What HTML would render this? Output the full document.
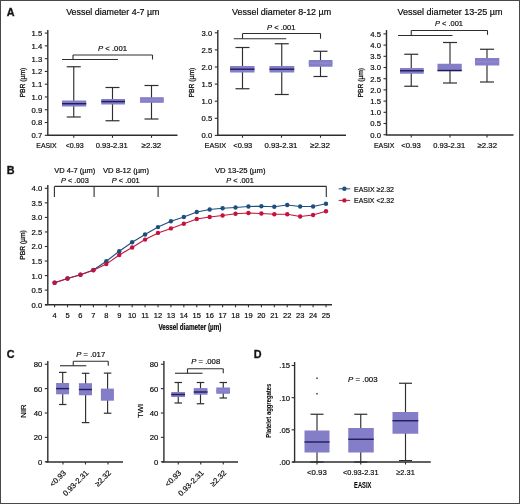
<!DOCTYPE html>
<html><head><meta charset="utf-8"><style>
html,body{margin:0;padding:0;background:#fff;}
body{width:520px;height:504px;overflow:hidden;}
svg{display:block;font-family:"Liberation Sans", sans-serif;will-change:transform;}
text{stroke:#1e1e1e;stroke-width:0.2px;}
</style></head><body>
<svg width="520" height="504" viewBox="0 0 520 504">
<rect x="0" y="0" width="520" height="504" fill="#fff"/>
<rect x="0.5" y="0.5" width="519" height="503" fill="none" stroke="#484848" stroke-width="1"/>
<text x="6.7" y="15.7" font-size="10.8" style="stroke-width:0.35px" font-weight="bold" fill="#111">A</text>
<text x="66.2" y="14.6" font-size="8.6" textLength="93.3" lengthAdjust="spacingAndGlyphs">Vessel diameter 4-7 µm</text>
<line x1="47.8" y1="30" x2="47.8" y2="135.2" stroke="#2e2e2e" stroke-width="1.4"/>
<line x1="44.8" y1="33.1" x2="47.8" y2="33.1" stroke="#2e2e2e" stroke-width="1.1"/>
<text x="42.2" y="36.0" font-size="7.7" text-anchor="end">1.5</text>
<line x1="44.8" y1="45.875" x2="47.8" y2="45.875" stroke="#2e2e2e" stroke-width="1.1"/>
<text x="42.2" y="48.775" font-size="7.7" text-anchor="end">1.4</text>
<line x1="44.8" y1="58.650000000000006" x2="47.8" y2="58.650000000000006" stroke="#2e2e2e" stroke-width="1.1"/>
<text x="42.2" y="61.550000000000004" font-size="7.7" text-anchor="end">1.3</text>
<line x1="44.8" y1="71.42500000000001" x2="47.8" y2="71.42500000000001" stroke="#2e2e2e" stroke-width="1.1"/>
<text x="42.2" y="74.32500000000002" font-size="7.7" text-anchor="end">1.2</text>
<line x1="44.8" y1="84.2" x2="47.8" y2="84.2" stroke="#2e2e2e" stroke-width="1.1"/>
<text x="42.2" y="87.10000000000001" font-size="7.7" text-anchor="end">1.1</text>
<line x1="44.8" y1="96.975" x2="47.8" y2="96.975" stroke="#2e2e2e" stroke-width="1.1"/>
<text x="42.2" y="99.875" font-size="7.7" text-anchor="end">1.0</text>
<line x1="44.8" y1="109.75" x2="47.8" y2="109.75" stroke="#2e2e2e" stroke-width="1.1"/>
<text x="42.2" y="112.65" font-size="7.7" text-anchor="end">0.9</text>
<line x1="44.8" y1="122.525" x2="47.8" y2="122.525" stroke="#2e2e2e" stroke-width="1.1"/>
<text x="42.2" y="125.42500000000001" font-size="7.7" text-anchor="end">0.8</text>
<line x1="44.8" y1="135.3" x2="47.8" y2="135.3" stroke="#2e2e2e" stroke-width="1.1"/>
<text x="42.2" y="138.20000000000002" font-size="7.7" text-anchor="end">0.7</text>
<line x1="47.1" y1="135.3" x2="177.5" y2="135.3" stroke="#2e2e2e" stroke-width="1.4"/>
<line x1="73.75" y1="135.3" x2="73.75" y2="137.8" stroke="#2e2e2e" stroke-width="1.1"/>
<line x1="112.5" y1="135.3" x2="112.5" y2="137.8" stroke="#2e2e2e" stroke-width="1.1"/>
<line x1="151.5" y1="135.3" x2="151.5" y2="137.8" stroke="#2e2e2e" stroke-width="1.1"/>
<text x="24.6" y="82.6" font-size="7.4" style="stroke-width:0.3px" text-anchor="middle" textLength="30" lengthAdjust="spacingAndGlyphs" transform="rotate(-90 24.6 82.6)">PBR (µm)</text>
<line x1="62" y1="59.5" x2="118" y2="59.5" stroke="#2e2e2e" stroke-width="1.1"/>
<line x1="73" y1="55" x2="73" y2="59.5" stroke="#2e2e2e" stroke-width="1.1"/>
<line x1="73" y1="55" x2="152.5" y2="55" stroke="#2e2e2e" stroke-width="1.1"/>
<line x1="152.5" y1="55" x2="152.5" y2="59.5" stroke="#2e2e2e" stroke-width="1.1"/>
<text x="98" y="50.6" font-size="7.7" textLength="29" lengthAdjust="spacingAndGlyphs"><tspan font-style="italic">P</tspan> &lt; .001</text>
<line x1="73.75" y1="66.75" x2="73.75" y2="117" stroke="#2e2e2e" stroke-width="1.15"/>
<line x1="66.75" y1="66.75" x2="80.75" y2="66.75" stroke="#2e2e2e" stroke-width="1.2"/>
<line x1="66.75" y1="117" x2="80.75" y2="117" stroke="#2e2e2e" stroke-width="1.2"/>
<rect x="62" y="100.5" width="24.25" height="6.0" fill="#837ec7"/>
<line x1="62" y1="103.7" x2="86.25" y2="103.7" stroke="#1f1d5a" stroke-width="1.4"/>
<line x1="112.5" y1="87.5" x2="112.5" y2="120.75" stroke="#2e2e2e" stroke-width="1.15"/>
<line x1="105.5" y1="87.5" x2="119.5" y2="87.5" stroke="#2e2e2e" stroke-width="1.2"/>
<line x1="105.5" y1="120.75" x2="119.5" y2="120.75" stroke="#2e2e2e" stroke-width="1.2"/>
<rect x="101.25" y="99" width="23.75" height="5.5" fill="#837ec7"/>
<line x1="101.25" y1="101.6" x2="125" y2="101.6" stroke="#1f1d5a" stroke-width="1.4"/>
<line x1="151.5" y1="85.5" x2="151.5" y2="119" stroke="#2e2e2e" stroke-width="1.15"/>
<line x1="144.5" y1="85.5" x2="158.5" y2="85.5" stroke="#2e2e2e" stroke-width="1.2"/>
<line x1="144.5" y1="119" x2="158.5" y2="119" stroke="#2e2e2e" stroke-width="1.2"/>
<rect x="140" y="97.2" width="23.75" height="5.599999999999994" fill="#837ec7"/>
<line x1="140" y1="100" x2="163.75" y2="100" stroke="#8e8ad0" stroke-width="1.4"/>
<text x="36.3" y="147.7" font-size="7.7" textLength="20.3" lengthAdjust="spacingAndGlyphs">EASIX</text>
<text x="65.7" y="147.7" font-size="7.7" textLength="18" lengthAdjust="spacingAndGlyphs">&lt;0.93</text>
<text x="95.8" y="147.7" font-size="7.7" textLength="32" lengthAdjust="spacingAndGlyphs">0.93-2.31</text>
<text x="141.6" y="147.7" font-size="7.7" textLength="19.6" lengthAdjust="spacingAndGlyphs">≥2.32</text>
<text x="232" y="14.6" font-size="8.6" textLength="99.2" lengthAdjust="spacingAndGlyphs">Vessel diameter 8-12 µm</text>
<line x1="217.8" y1="30" x2="217.8" y2="135.2" stroke="#2e2e2e" stroke-width="1.4"/>
<line x1="214.8" y1="32.8" x2="217.8" y2="32.8" stroke="#2e2e2e" stroke-width="1.1"/>
<text x="212.2" y="35.699999999999996" font-size="7.7" text-anchor="end">3.0</text>
<line x1="214.8" y1="49.9" x2="217.8" y2="49.9" stroke="#2e2e2e" stroke-width="1.1"/>
<text x="212.2" y="52.8" font-size="7.7" text-anchor="end">2.5</text>
<line x1="214.8" y1="67.0" x2="217.8" y2="67.0" stroke="#2e2e2e" stroke-width="1.1"/>
<text x="212.2" y="69.9" font-size="7.7" text-anchor="end">2.0</text>
<line x1="214.8" y1="84.1" x2="217.8" y2="84.1" stroke="#2e2e2e" stroke-width="1.1"/>
<text x="212.2" y="87.0" font-size="7.7" text-anchor="end">1.5</text>
<line x1="214.8" y1="101.2" x2="217.8" y2="101.2" stroke="#2e2e2e" stroke-width="1.1"/>
<text x="212.2" y="104.10000000000001" font-size="7.7" text-anchor="end">1.0</text>
<line x1="214.8" y1="118.3" x2="217.8" y2="118.3" stroke="#2e2e2e" stroke-width="1.1"/>
<text x="212.2" y="121.2" font-size="7.7" text-anchor="end">0.5</text>
<line x1="214.8" y1="135.4" x2="217.8" y2="135.4" stroke="#2e2e2e" stroke-width="1.1"/>
<text x="212.2" y="138.3" font-size="7.7" text-anchor="end">0.0</text>
<line x1="217.1" y1="135.2" x2="346" y2="135.2" stroke="#2e2e2e" stroke-width="1.4"/>
<line x1="242.5" y1="135.2" x2="242.5" y2="137.7" stroke="#2e2e2e" stroke-width="1.1"/>
<line x1="281.5" y1="135.2" x2="281.5" y2="137.7" stroke="#2e2e2e" stroke-width="1.1"/>
<line x1="320.5" y1="135.2" x2="320.5" y2="137.7" stroke="#2e2e2e" stroke-width="1.1"/>
<text x="194.2" y="82.6" font-size="7.4" style="stroke-width:0.3px" text-anchor="middle" textLength="30" lengthAdjust="spacingAndGlyphs" transform="rotate(-90 194.2 82.6)">PBR (µm)</text>
<line x1="233.75" y1="38.75" x2="286.25" y2="38.75" stroke="#2e2e2e" stroke-width="1.1"/>
<line x1="242.5" y1="33.5" x2="242.5" y2="38.75" stroke="#2e2e2e" stroke-width="1.1"/>
<line x1="242.5" y1="33.5" x2="320.5" y2="33.5" stroke="#2e2e2e" stroke-width="1.1"/>
<line x1="320.5" y1="33.5" x2="320.5" y2="38.75" stroke="#2e2e2e" stroke-width="1.1"/>
<text x="267" y="29.8" font-size="7.7" textLength="28.5" lengthAdjust="spacingAndGlyphs"><tspan font-style="italic">P</tspan> &lt; .001</text>
<line x1="242.5" y1="47.5" x2="242.5" y2="88.75" stroke="#2e2e2e" stroke-width="1.15"/>
<line x1="235.5" y1="47.5" x2="249.5" y2="47.5" stroke="#2e2e2e" stroke-width="1.2"/>
<line x1="235.5" y1="88.75" x2="249.5" y2="88.75" stroke="#2e2e2e" stroke-width="1.2"/>
<rect x="230" y="66.0" width="24.5" height="6.5" fill="#837ec7"/>
<line x1="230" y1="69.2" x2="254.5" y2="69.2" stroke="#1f1d5a" stroke-width="1.4"/>
<line x1="281.75" y1="43.75" x2="281.75" y2="94.5" stroke="#2e2e2e" stroke-width="1.15"/>
<line x1="274.75" y1="43.75" x2="288.75" y2="43.75" stroke="#2e2e2e" stroke-width="1.2"/>
<line x1="274.75" y1="94.5" x2="288.75" y2="94.5" stroke="#2e2e2e" stroke-width="1.2"/>
<rect x="269.5" y="66.0" width="24.75" height="6.5" fill="#837ec7"/>
<line x1="269.5" y1="69.2" x2="294.25" y2="69.2" stroke="#1f1d5a" stroke-width="1.4"/>
<line x1="320.5" y1="51.25" x2="320.5" y2="76.5" stroke="#2e2e2e" stroke-width="1.15"/>
<line x1="313.5" y1="51.25" x2="327.5" y2="51.25" stroke="#2e2e2e" stroke-width="1.2"/>
<line x1="313.5" y1="76.5" x2="327.5" y2="76.5" stroke="#2e2e2e" stroke-width="1.2"/>
<rect x="308.75" y="60" width="23.75" height="6.75" fill="#837ec7"/>
<line x1="308.75" y1="63.2" x2="332.5" y2="63.2" stroke="#8e8ad0" stroke-width="1.4"/>
<text x="204.6" y="147.7" font-size="7.7" textLength="21.5" lengthAdjust="spacingAndGlyphs">EASIX</text>
<text x="233.3" y="147.7" font-size="7.7" textLength="19" lengthAdjust="spacingAndGlyphs">&lt;0.93</text>
<text x="264.5" y="147.7" font-size="7.7" textLength="32.8" lengthAdjust="spacingAndGlyphs">0.93-2.31</text>
<text x="310" y="147.7" font-size="7.7" textLength="20" lengthAdjust="spacingAndGlyphs">≥2.32</text>
<text x="397.5" y="14.6" font-size="8.6" textLength="105" lengthAdjust="spacingAndGlyphs">Vessel diameter 13-25 µm</text>
<line x1="386.5" y1="30" x2="386.5" y2="135" stroke="#2e2e2e" stroke-width="1.4"/>
<line x1="383.5" y1="33.9" x2="386.5" y2="33.9" stroke="#2e2e2e" stroke-width="1.1"/>
<text x="381" y="36.8" font-size="7.7" text-anchor="end">4.5</text>
<line x1="383.5" y1="45.099999999999994" x2="386.5" y2="45.099999999999994" stroke="#2e2e2e" stroke-width="1.1"/>
<text x="381" y="47.99999999999999" font-size="7.7" text-anchor="end">4.0</text>
<line x1="383.5" y1="56.3" x2="386.5" y2="56.3" stroke="#2e2e2e" stroke-width="1.1"/>
<text x="381" y="59.199999999999996" font-size="7.7" text-anchor="end">3.5</text>
<line x1="383.5" y1="67.5" x2="386.5" y2="67.5" stroke="#2e2e2e" stroke-width="1.1"/>
<text x="381" y="70.4" font-size="7.7" text-anchor="end">3.0</text>
<line x1="383.5" y1="78.69999999999999" x2="386.5" y2="78.69999999999999" stroke="#2e2e2e" stroke-width="1.1"/>
<text x="381" y="81.6" font-size="7.7" text-anchor="end">2.5</text>
<line x1="383.5" y1="89.9" x2="386.5" y2="89.9" stroke="#2e2e2e" stroke-width="1.1"/>
<text x="381" y="92.80000000000001" font-size="7.7" text-anchor="end">2.0</text>
<line x1="383.5" y1="101.1" x2="386.5" y2="101.1" stroke="#2e2e2e" stroke-width="1.1"/>
<text x="381" y="104.0" font-size="7.7" text-anchor="end">1.5</text>
<line x1="383.5" y1="112.29999999999998" x2="386.5" y2="112.29999999999998" stroke="#2e2e2e" stroke-width="1.1"/>
<text x="381" y="115.19999999999999" font-size="7.7" text-anchor="end">1.0</text>
<line x1="383.5" y1="123.5" x2="386.5" y2="123.5" stroke="#2e2e2e" stroke-width="1.1"/>
<text x="381" y="126.4" font-size="7.7" text-anchor="end">0.5</text>
<line x1="383.5" y1="134.7" x2="386.5" y2="134.7" stroke="#2e2e2e" stroke-width="1.1"/>
<text x="381" y="137.6" font-size="7.7" text-anchor="end">0.0</text>
<line x1="385.8" y1="135" x2="513.5" y2="135" stroke="#2e2e2e" stroke-width="1.4"/>
<line x1="411.25" y1="135" x2="411.25" y2="137.5" stroke="#2e2e2e" stroke-width="1.1"/>
<line x1="450" y1="135" x2="450" y2="137.5" stroke="#2e2e2e" stroke-width="1.1"/>
<line x1="487" y1="135" x2="487" y2="137.5" stroke="#2e2e2e" stroke-width="1.1"/>
<text x="363.4" y="82.7" font-size="7.4" style="stroke-width:0.3px" text-anchor="middle" textLength="29.6" lengthAdjust="spacingAndGlyphs" transform="rotate(-90 363.4 82.7)">PBR (µm)</text>
<line x1="398" y1="35.5" x2="452.5" y2="35.5" stroke="#2e2e2e" stroke-width="1.1"/>
<line x1="411.25" y1="30.5" x2="411.25" y2="35.5" stroke="#2e2e2e" stroke-width="1.1"/>
<line x1="411.25" y1="30.5" x2="487.5" y2="30.5" stroke="#2e2e2e" stroke-width="1.1"/>
<line x1="487.5" y1="30.5" x2="487.5" y2="34.8" stroke="#2e2e2e" stroke-width="1.1"/>
<text x="435" y="26.4" font-size="7.7" textLength="28" lengthAdjust="spacingAndGlyphs"><tspan font-style="italic">P</tspan> &lt; .001</text>
<line x1="411.25" y1="54.25" x2="411.25" y2="86.25" stroke="#2e2e2e" stroke-width="1.15"/>
<line x1="404.25" y1="54.25" x2="418.25" y2="54.25" stroke="#2e2e2e" stroke-width="1.2"/>
<line x1="404.25" y1="86.25" x2="418.25" y2="86.25" stroke="#2e2e2e" stroke-width="1.2"/>
<rect x="400" y="68" width="23.75" height="5.75" fill="#837ec7"/>
<line x1="400" y1="70.75" x2="423.75" y2="70.75" stroke="#1f1d5a" stroke-width="1.4"/>
<line x1="450" y1="42.5" x2="450" y2="83" stroke="#2e2e2e" stroke-width="1.15"/>
<line x1="443.0" y1="42.5" x2="457.0" y2="42.5" stroke="#2e2e2e" stroke-width="1.2"/>
<line x1="443.0" y1="83" x2="457.0" y2="83" stroke="#2e2e2e" stroke-width="1.2"/>
<rect x="437.5" y="63.75" width="24.25" height="7.5" fill="#837ec7"/>
<line x1="437.5" y1="70.5" x2="461.75" y2="70.5" stroke="#1f1d5a" stroke-width="1.4"/>
<line x1="487" y1="49.25" x2="487" y2="82" stroke="#2e2e2e" stroke-width="1.15"/>
<line x1="480.0" y1="49.25" x2="494.0" y2="49.25" stroke="#2e2e2e" stroke-width="1.2"/>
<line x1="480.0" y1="82" x2="494.0" y2="82" stroke="#2e2e2e" stroke-width="1.2"/>
<rect x="475" y="58" width="24.25" height="7.5" fill="#837ec7"/>
<line x1="475" y1="61.75" x2="499.25" y2="61.75" stroke="#8e8ad0" stroke-width="1.4"/>
<text x="373.9" y="147.7" font-size="7.7" textLength="20.5" lengthAdjust="spacingAndGlyphs">EASIX</text>
<text x="401.3" y="147.7" font-size="7.7" textLength="19.5" lengthAdjust="spacingAndGlyphs">&lt;0.93</text>
<text x="433.3" y="147.7" font-size="7.7" textLength="31.8" lengthAdjust="spacingAndGlyphs">0.93-2.31</text>
<text x="477.5" y="147.7" font-size="7.7" textLength="19.5" lengthAdjust="spacingAndGlyphs">≥2.32</text>
<text x="6.7" y="173.9" font-size="10.8" style="stroke-width:0.35px" font-weight="bold" fill="#111">B</text>
<line x1="47.8" y1="185" x2="47.8" y2="305" stroke="#2e2e2e" stroke-width="1.4"/>
<line x1="44.8" y1="188.3" x2="47.8" y2="188.3" stroke="#2e2e2e" stroke-width="1.1"/>
<text x="42.2" y="191.20000000000002" font-size="7.7" text-anchor="end">4.0</text>
<line x1="44.8" y1="202.85000000000002" x2="47.8" y2="202.85000000000002" stroke="#2e2e2e" stroke-width="1.1"/>
<text x="42.2" y="205.75000000000003" font-size="7.7" text-anchor="end">3.5</text>
<line x1="44.8" y1="217.4" x2="47.8" y2="217.4" stroke="#2e2e2e" stroke-width="1.1"/>
<text x="42.2" y="220.3" font-size="7.7" text-anchor="end">3.0</text>
<line x1="44.8" y1="231.95000000000002" x2="47.8" y2="231.95000000000002" stroke="#2e2e2e" stroke-width="1.1"/>
<text x="42.2" y="234.85000000000002" font-size="7.7" text-anchor="end">2.5</text>
<line x1="44.8" y1="246.5" x2="47.8" y2="246.5" stroke="#2e2e2e" stroke-width="1.1"/>
<text x="42.2" y="249.4" font-size="7.7" text-anchor="end">2.0</text>
<line x1="44.8" y1="261.05" x2="47.8" y2="261.05" stroke="#2e2e2e" stroke-width="1.1"/>
<text x="42.2" y="263.95" font-size="7.7" text-anchor="end">1.5</text>
<line x1="44.8" y1="275.6" x2="47.8" y2="275.6" stroke="#2e2e2e" stroke-width="1.1"/>
<text x="42.2" y="278.5" font-size="7.7" text-anchor="end">1.0</text>
<line x1="44.8" y1="290.15000000000003" x2="47.8" y2="290.15000000000003" stroke="#2e2e2e" stroke-width="1.1"/>
<text x="42.2" y="293.05" font-size="7.7" text-anchor="end">0.5</text>
<line x1="44.8" y1="304.70000000000005" x2="47.8" y2="304.70000000000005" stroke="#2e2e2e" stroke-width="1.1"/>
<text x="42.2" y="307.6" font-size="7.7" text-anchor="end">0.0</text>
<line x1="45" y1="304.8" x2="332" y2="304.8" stroke="#2e2e2e" stroke-width="1.4"/>
<line x1="54.6" y1="304.8" x2="54.6" y2="307.3" stroke="#2e2e2e" stroke-width="1.1"/>
<line x1="67.524" y1="304.8" x2="67.524" y2="307.3" stroke="#2e2e2e" stroke-width="1.1"/>
<line x1="80.44800000000001" y1="304.8" x2="80.44800000000001" y2="307.3" stroke="#2e2e2e" stroke-width="1.1"/>
<line x1="93.372" y1="304.8" x2="93.372" y2="307.3" stroke="#2e2e2e" stroke-width="1.1"/>
<line x1="106.29599999999999" y1="304.8" x2="106.29599999999999" y2="307.3" stroke="#2e2e2e" stroke-width="1.1"/>
<line x1="119.22" y1="304.8" x2="119.22" y2="307.3" stroke="#2e2e2e" stroke-width="1.1"/>
<line x1="132.144" y1="304.8" x2="132.144" y2="307.3" stroke="#2e2e2e" stroke-width="1.1"/>
<line x1="145.06799999999998" y1="304.8" x2="145.06799999999998" y2="307.3" stroke="#2e2e2e" stroke-width="1.1"/>
<line x1="157.992" y1="304.8" x2="157.992" y2="307.3" stroke="#2e2e2e" stroke-width="1.1"/>
<line x1="170.916" y1="304.8" x2="170.916" y2="307.3" stroke="#2e2e2e" stroke-width="1.1"/>
<line x1="183.84" y1="304.8" x2="183.84" y2="307.3" stroke="#2e2e2e" stroke-width="1.1"/>
<line x1="196.76399999999998" y1="304.8" x2="196.76399999999998" y2="307.3" stroke="#2e2e2e" stroke-width="1.1"/>
<line x1="209.688" y1="304.8" x2="209.688" y2="307.3" stroke="#2e2e2e" stroke-width="1.1"/>
<line x1="222.612" y1="304.8" x2="222.612" y2="307.3" stroke="#2e2e2e" stroke-width="1.1"/>
<line x1="235.53599999999997" y1="304.8" x2="235.53599999999997" y2="307.3" stroke="#2e2e2e" stroke-width="1.1"/>
<line x1="248.45999999999998" y1="304.8" x2="248.45999999999998" y2="307.3" stroke="#2e2e2e" stroke-width="1.1"/>
<line x1="261.384" y1="304.8" x2="261.384" y2="307.3" stroke="#2e2e2e" stroke-width="1.1"/>
<line x1="274.308" y1="304.8" x2="274.308" y2="307.3" stroke="#2e2e2e" stroke-width="1.1"/>
<line x1="287.232" y1="304.8" x2="287.232" y2="307.3" stroke="#2e2e2e" stroke-width="1.1"/>
<line x1="300.156" y1="304.8" x2="300.156" y2="307.3" stroke="#2e2e2e" stroke-width="1.1"/>
<line x1="313.08000000000004" y1="304.8" x2="313.08000000000004" y2="307.3" stroke="#2e2e2e" stroke-width="1.1"/>
<line x1="326.004" y1="304.8" x2="326.004" y2="307.3" stroke="#2e2e2e" stroke-width="1.1"/>
<text x="54.6" y="317.7" font-size="7.5" text-anchor="middle">4</text>
<text x="67.52" y="317.7" font-size="7.5" text-anchor="middle">5</text>
<text x="80.45" y="317.7" font-size="7.5" text-anchor="middle">6</text>
<text x="93.37" y="317.7" font-size="7.5" text-anchor="middle">7</text>
<text x="106.3" y="317.7" font-size="7.5" text-anchor="middle">8</text>
<text x="119.22" y="317.7" font-size="7.5" text-anchor="middle">9</text>
<text x="132.14" y="317.7" font-size="7.5" text-anchor="middle">10</text>
<text x="145.07" y="317.7" font-size="7.5" text-anchor="middle">11</text>
<text x="157.99" y="317.7" font-size="7.5" text-anchor="middle">12</text>
<text x="170.92" y="317.7" font-size="7.5" text-anchor="middle">13</text>
<text x="183.84" y="317.7" font-size="7.5" text-anchor="middle">14</text>
<text x="196.76" y="317.7" font-size="7.5" text-anchor="middle">15</text>
<text x="209.69" y="317.7" font-size="7.5" text-anchor="middle">16</text>
<text x="222.61" y="317.7" font-size="7.5" text-anchor="middle">17</text>
<text x="235.54" y="317.7" font-size="7.5" text-anchor="middle">18</text>
<text x="248.46" y="317.7" font-size="7.5" text-anchor="middle">19</text>
<text x="261.38" y="317.7" font-size="7.5" text-anchor="middle">20</text>
<text x="274.31" y="317.7" font-size="7.5" text-anchor="middle">21</text>
<text x="287.23" y="317.7" font-size="7.5" text-anchor="middle">22</text>
<text x="300.16" y="317.7" font-size="7.5" text-anchor="middle">23</text>
<text x="313.08" y="317.7" font-size="7.5" text-anchor="middle">24</text>
<text x="326.0" y="317.7" font-size="7.5" text-anchor="middle">25</text>
<text x="158.4" y="329.7" font-size="8.6" textLength="63" lengthAdjust="spacingAndGlyphs" font-weight="bold">Vessel diameter (µm)</text>
<text x="25.2" y="245" font-size="7.4" style="stroke-width:0.3px" text-anchor="middle" textLength="29.7" lengthAdjust="spacingAndGlyphs" transform="rotate(-90 25.2 245)">PBR (µm)</text>
<line x1="54.5" y1="186.4" x2="326.5" y2="186.4" stroke="#2e2e2e" stroke-width="1.1"/>
<line x1="54.4" y1="186.4" x2="54.4" y2="196.9" stroke="#2e2e2e" stroke-width="1.1"/>
<line x1="94.1" y1="186.4" x2="94.1" y2="196.9" stroke="#2e2e2e" stroke-width="1.1"/>
<line x1="158.1" y1="186.4" x2="158.1" y2="196.9" stroke="#2e2e2e" stroke-width="1.1"/>
<line x1="326.3" y1="186.4" x2="326.3" y2="196.9" stroke="#2e2e2e" stroke-width="1.1"/>
<text x="54.3" y="173.4" font-size="7.7" textLength="41" lengthAdjust="spacingAndGlyphs">VD 4-7 (µm)</text>
<text x="60.9" y="182.6" font-size="7.7" textLength="27.9" lengthAdjust="spacingAndGlyphs"><tspan font-style="italic">P</tspan> &lt; .003</text>
<text x="103" y="173.4" font-size="7.7" textLength="46" lengthAdjust="spacingAndGlyphs">VD 8-12 (µm)</text>
<text x="111.8" y="182.6" font-size="7.7" textLength="27.9" lengthAdjust="spacingAndGlyphs"><tspan font-style="italic">P</tspan> &lt; .001</text>
<text x="215" y="173.4" font-size="7.7" textLength="50.5" lengthAdjust="spacingAndGlyphs">VD 13-25 (µm)</text>
<text x="226.2" y="182.6" font-size="7.7" textLength="27.6" lengthAdjust="spacingAndGlyphs"><tspan font-style="italic">P</tspan> &lt; .001</text>
<polyline fill="none" stroke="#1d4f7e" stroke-width="1.1" points="54.60,282.7 67.52,278.5 80.45,274.8 93.37,270.0 106.30,261.25 119.22,251.25 132.14,242.3 145.07,234.5 157.99,227.1 170.92,221.25 183.84,217 196.76,212 209.69,209.5 222.61,208.25 235.54,207.5 248.46,206.5 261.38,206.25 274.31,206.75 287.23,205 300.16,206.5 313.08,206.5 326.00,203.75"/>
<polyline fill="none" stroke="#c3133d" stroke-width="1.1" points="54.60,282.7 67.52,278.5 80.45,274.8 93.37,270.3 106.30,264.1 119.22,255 132.14,247.5 145.07,239.6 157.99,232.9 170.92,228.4 183.84,223.75 196.76,219 209.69,217 222.61,215.5 235.54,213.75 248.46,213 261.38,213.5 274.31,214.25 287.23,214.25 300.16,216.5 313.08,215 326.00,211.25"/>
<circle cx="54.6" cy="282.7" r="2.2" fill="#1d4f7e"/>
<circle cx="67.52" cy="278.5" r="2.2" fill="#1d4f7e"/>
<circle cx="80.45" cy="274.8" r="2.2" fill="#1d4f7e"/>
<circle cx="93.37" cy="270.0" r="2.2" fill="#1d4f7e"/>
<circle cx="106.3" cy="261.25" r="2.2" fill="#1d4f7e"/>
<circle cx="119.22" cy="251.25" r="2.2" fill="#1d4f7e"/>
<circle cx="132.14" cy="242.3" r="2.2" fill="#1d4f7e"/>
<circle cx="145.07" cy="234.5" r="2.2" fill="#1d4f7e"/>
<circle cx="157.99" cy="227.1" r="2.2" fill="#1d4f7e"/>
<circle cx="170.92" cy="221.25" r="2.2" fill="#1d4f7e"/>
<circle cx="183.84" cy="217" r="2.2" fill="#1d4f7e"/>
<circle cx="196.76" cy="212" r="2.2" fill="#1d4f7e"/>
<circle cx="209.69" cy="209.5" r="2.2" fill="#1d4f7e"/>
<circle cx="222.61" cy="208.25" r="2.2" fill="#1d4f7e"/>
<circle cx="235.54" cy="207.5" r="2.2" fill="#1d4f7e"/>
<circle cx="248.46" cy="206.5" r="2.2" fill="#1d4f7e"/>
<circle cx="261.38" cy="206.25" r="2.2" fill="#1d4f7e"/>
<circle cx="274.31" cy="206.75" r="2.2" fill="#1d4f7e"/>
<circle cx="287.23" cy="205" r="2.2" fill="#1d4f7e"/>
<circle cx="300.16" cy="206.5" r="2.2" fill="#1d4f7e"/>
<circle cx="313.08" cy="206.5" r="2.2" fill="#1d4f7e"/>
<circle cx="326.0" cy="203.75" r="2.2" fill="#1d4f7e"/>
<circle cx="54.6" cy="282.7" r="2.2" fill="#c3133d"/>
<circle cx="67.52" cy="278.5" r="2.2" fill="#c3133d"/>
<circle cx="80.45" cy="274.8" r="2.2" fill="#c3133d"/>
<circle cx="93.37" cy="270.3" r="2.2" fill="#c3133d"/>
<circle cx="106.3" cy="264.1" r="2.2" fill="#c3133d"/>
<circle cx="119.22" cy="255" r="2.2" fill="#c3133d"/>
<circle cx="132.14" cy="247.5" r="2.2" fill="#c3133d"/>
<circle cx="145.07" cy="239.6" r="2.2" fill="#c3133d"/>
<circle cx="157.99" cy="232.9" r="2.2" fill="#c3133d"/>
<circle cx="170.92" cy="228.4" r="2.2" fill="#c3133d"/>
<circle cx="183.84" cy="223.75" r="2.2" fill="#c3133d"/>
<circle cx="196.76" cy="219" r="2.2" fill="#c3133d"/>
<circle cx="209.69" cy="217" r="2.2" fill="#c3133d"/>
<circle cx="222.61" cy="215.5" r="2.2" fill="#c3133d"/>
<circle cx="235.54" cy="213.75" r="2.2" fill="#c3133d"/>
<circle cx="248.46" cy="213" r="2.2" fill="#c3133d"/>
<circle cx="261.38" cy="213.5" r="2.2" fill="#c3133d"/>
<circle cx="274.31" cy="214.25" r="2.2" fill="#c3133d"/>
<circle cx="287.23" cy="214.25" r="2.2" fill="#c3133d"/>
<circle cx="300.16" cy="216.5" r="2.2" fill="#c3133d"/>
<circle cx="313.08" cy="215" r="2.2" fill="#c3133d"/>
<circle cx="326.0" cy="211.25" r="2.2" fill="#c3133d"/>
<line x1="338.7" y1="188.8" x2="350.2" y2="188.8" stroke="#1d4f7e" stroke-width="1.0"/>
<circle cx="344.4" cy="188.8" r="2.2" fill="#1d4f7e"/>
<text x="354" y="191.7" font-size="7.7" textLength="40" lengthAdjust="spacingAndGlyphs">EASIX ≥2.32</text>
<line x1="338.7" y1="200.4" x2="350.2" y2="200.4" stroke="#c3133d" stroke-width="1.0"/>
<circle cx="344.4" cy="200.4" r="2.2" fill="#c3133d"/>
<text x="354" y="203.1" font-size="7.7" textLength="40" lengthAdjust="spacingAndGlyphs">EASIX &lt;2.32</text>
<text x="6.7" y="357.6" font-size="10.8" style="stroke-width:0.35px" font-weight="bold" fill="#111">C</text>
<line x1="47.8" y1="361" x2="47.8" y2="462" stroke="#2e2e2e" stroke-width="1.4"/>
<line x1="44.8" y1="364.25" x2="47.8" y2="364.25" stroke="#2e2e2e" stroke-width="1.1"/>
<text x="42.2" y="367.15" font-size="7.7" text-anchor="end">80</text>
<line x1="44.8" y1="388.625" x2="47.8" y2="388.625" stroke="#2e2e2e" stroke-width="1.1"/>
<text x="42.2" y="391.525" font-size="7.7" text-anchor="end">60</text>
<line x1="44.8" y1="413.0" x2="47.8" y2="413.0" stroke="#2e2e2e" stroke-width="1.1"/>
<text x="42.2" y="415.9" font-size="7.7" text-anchor="end">40</text>
<line x1="44.8" y1="437.375" x2="47.8" y2="437.375" stroke="#2e2e2e" stroke-width="1.1"/>
<text x="42.2" y="440.275" font-size="7.7" text-anchor="end">20</text>
<line x1="44.8" y1="461.75" x2="47.8" y2="461.75" stroke="#2e2e2e" stroke-width="1.1"/>
<text x="42.2" y="464.65" font-size="7.7" text-anchor="end">0</text>
<line x1="45.8" y1="462" x2="123" y2="462" stroke="#2e2e2e" stroke-width="1.4"/>
<line x1="63" y1="462" x2="63" y2="464.5" stroke="#2e2e2e" stroke-width="1.1"/>
<line x1="85.5" y1="462" x2="85.5" y2="464.5" stroke="#2e2e2e" stroke-width="1.1"/>
<line x1="108" y1="462" x2="108" y2="464.5" stroke="#2e2e2e" stroke-width="1.1"/>
<text x="26.4" y="411" font-size="7.7" text-anchor="middle" transform="rotate(-90 26.4 411)">NIR</text>
<line x1="60" y1="365.75" x2="86.25" y2="365.75" stroke="#2e2e2e" stroke-width="1.1"/>
<line x1="73.25" y1="361.25" x2="73.25" y2="365.75" stroke="#2e2e2e" stroke-width="1.1"/>
<line x1="73.25" y1="361.25" x2="108.25" y2="361.25" stroke="#2e2e2e" stroke-width="1.1"/>
<line x1="108.25" y1="361.25" x2="108.25" y2="365.75" stroke="#2e2e2e" stroke-width="1.1"/>
<text x="76.2" y="357.0" font-size="7.7" textLength="29" lengthAdjust="spacingAndGlyphs"><tspan font-style="italic">P</tspan> = .017</text>
<line x1="62.7" y1="372.4" x2="62.7" y2="404.5" stroke="#2e2e2e" stroke-width="1.15"/>
<line x1="58.95" y1="372.4" x2="66.45" y2="372.4" stroke="#2e2e2e" stroke-width="1.2"/>
<line x1="58.95" y1="404.5" x2="66.45" y2="404.5" stroke="#2e2e2e" stroke-width="1.2"/>
<rect x="56.1" y="383.0" width="12.999999999999993" height="11.300000000000011" fill="#837ec7"/>
<line x1="56.1" y1="388.6" x2="69.1" y2="388.6" stroke="#1f1d5a" stroke-width="1.4"/>
<line x1="85.6" y1="373.3" x2="85.6" y2="422.6" stroke="#2e2e2e" stroke-width="1.15"/>
<line x1="81.85" y1="373.3" x2="89.35" y2="373.3" stroke="#2e2e2e" stroke-width="1.2"/>
<line x1="81.85" y1="422.6" x2="89.35" y2="422.6" stroke="#2e2e2e" stroke-width="1.2"/>
<rect x="78.9" y="383.2" width="13.099999999999994" height="12.100000000000023" fill="#837ec7"/>
<line x1="78.9" y1="389.5" x2="92" y2="389.5" stroke="#1f1d5a" stroke-width="1.4"/>
<line x1="107.6" y1="373.1" x2="107.6" y2="413.2" stroke="#2e2e2e" stroke-width="1.15"/>
<line x1="103.85" y1="373.1" x2="111.35" y2="373.1" stroke="#2e2e2e" stroke-width="1.2"/>
<line x1="103.85" y1="413.2" x2="111.35" y2="413.2" stroke="#2e2e2e" stroke-width="1.2"/>
<rect x="100.9" y="388.6" width="13.0" height="12.099999999999966" fill="#837ec7"/>
<line x1="100.9" y1="394" x2="113.9" y2="394" stroke="#837ec7" stroke-width="1.4"/>
<text x="66.5" y="473.5" font-size="7.7" text-anchor="end" transform="rotate(-45 66.5 473.5)">&lt;0.93</text>
<text x="89.0" y="473.5" font-size="7.7" text-anchor="end" transform="rotate(-45 89.0 473.5)">0.93-2.31</text>
<text x="111.5" y="473.5" font-size="7.7" text-anchor="end" transform="rotate(-45 111.5 473.5)">≥2.32</text>
<line x1="163.9" y1="361" x2="163.9" y2="462" stroke="#2e2e2e" stroke-width="1.4"/>
<line x1="160.9" y1="364.25" x2="163.9" y2="364.25" stroke="#2e2e2e" stroke-width="1.1"/>
<text x="158.3" y="367.15" font-size="7.7" text-anchor="end">80</text>
<line x1="160.9" y1="388.625" x2="163.9" y2="388.625" stroke="#2e2e2e" stroke-width="1.1"/>
<text x="158.3" y="391.525" font-size="7.7" text-anchor="end">60</text>
<line x1="160.9" y1="413.0" x2="163.9" y2="413.0" stroke="#2e2e2e" stroke-width="1.1"/>
<text x="158.3" y="415.9" font-size="7.7" text-anchor="end">40</text>
<line x1="160.9" y1="437.375" x2="163.9" y2="437.375" stroke="#2e2e2e" stroke-width="1.1"/>
<text x="158.3" y="440.275" font-size="7.7" text-anchor="end">20</text>
<line x1="160.9" y1="461.75" x2="163.9" y2="461.75" stroke="#2e2e2e" stroke-width="1.1"/>
<text x="158.3" y="464.65" font-size="7.7" text-anchor="end">0</text>
<line x1="161.9" y1="462" x2="238" y2="462" stroke="#2e2e2e" stroke-width="1.4"/>
<line x1="178.25" y1="462" x2="178.25" y2="464.5" stroke="#2e2e2e" stroke-width="1.1"/>
<line x1="200.75" y1="462" x2="200.75" y2="464.5" stroke="#2e2e2e" stroke-width="1.1"/>
<line x1="223.25" y1="462" x2="223.25" y2="464.5" stroke="#2e2e2e" stroke-width="1.1"/>
<text x="142.6" y="411" font-size="7.7" text-anchor="middle" transform="rotate(-90 142.6 411)">TWI</text>
<line x1="175" y1="373.25" x2="202.5" y2="373.25" stroke="#2e2e2e" stroke-width="1.1"/>
<line x1="187.5" y1="368.75" x2="187.5" y2="373.25" stroke="#2e2e2e" stroke-width="1.1"/>
<line x1="187.5" y1="368.75" x2="223.25" y2="368.75" stroke="#2e2e2e" stroke-width="1.1"/>
<line x1="223.25" y1="368.75" x2="223.25" y2="373.25" stroke="#2e2e2e" stroke-width="1.1"/>
<text x="191.2" y="364.3" font-size="7.7" textLength="29" lengthAdjust="spacingAndGlyphs"><tspan font-style="italic">P</tspan> = .008</text>
<line x1="178.25" y1="382.5" x2="178.25" y2="403" stroke="#2e2e2e" stroke-width="1.15"/>
<line x1="174.5" y1="382.5" x2="182.0" y2="382.5" stroke="#2e2e2e" stroke-width="1.2"/>
<line x1="174.5" y1="403" x2="182.0" y2="403" stroke="#2e2e2e" stroke-width="1.2"/>
<rect x="171.25" y="392" width="13.75" height="5" fill="#837ec7"/>
<line x1="171.25" y1="394.5" x2="185" y2="394.5" stroke="#1f1d5a" stroke-width="1.4"/>
<line x1="200.5" y1="382.5" x2="200.5" y2="403.75" stroke="#2e2e2e" stroke-width="1.15"/>
<line x1="196.75" y1="382.5" x2="204.25" y2="382.5" stroke="#2e2e2e" stroke-width="1.2"/>
<line x1="196.75" y1="403.75" x2="204.25" y2="403.75" stroke="#2e2e2e" stroke-width="1.2"/>
<rect x="193.75" y="388.1" width="13.75" height="6.599999999999966" fill="#837ec7"/>
<line x1="193.75" y1="392.0" x2="207.5" y2="392.0" stroke="#1f1d5a" stroke-width="1.4"/>
<line x1="223.25" y1="382.5" x2="223.25" y2="398" stroke="#2e2e2e" stroke-width="1.15"/>
<line x1="219.5" y1="382.5" x2="227.0" y2="382.5" stroke="#2e2e2e" stroke-width="1.2"/>
<line x1="219.5" y1="398" x2="227.0" y2="398" stroke="#2e2e2e" stroke-width="1.2"/>
<rect x="216.25" y="387.5" width="13.75" height="6.25" fill="#837ec7"/>
<line x1="216.25" y1="390.6" x2="230" y2="390.6" stroke="#8e8ad0" stroke-width="1.4"/>
<text x="181.75" y="473.5" font-size="7.7" text-anchor="end" transform="rotate(-45 181.75 473.5)">&lt;0.93</text>
<text x="204.25" y="473.5" font-size="7.7" text-anchor="end" transform="rotate(-45 204.25 473.5)">0.93-2.31</text>
<text x="226.75" y="473.5" font-size="7.7" text-anchor="end" transform="rotate(-45 226.75 473.5)">≥2.32</text>
<text x="253.8" y="357.6" font-size="10.8" style="stroke-width:0.35px" font-weight="bold" fill="#111">D</text>
<line x1="294.6" y1="362" x2="294.6" y2="462" stroke="#2e2e2e" stroke-width="1.4"/>
<line x1="291.6" y1="365.5" x2="294.6" y2="365.5" stroke="#2e2e2e" stroke-width="1.1"/>
<text x="290" y="368.4" font-size="7.7" text-anchor="end">.15</text>
<line x1="291.6" y1="397.67" x2="294.6" y2="397.67" stroke="#2e2e2e" stroke-width="1.1"/>
<text x="290" y="400.57" font-size="7.7" text-anchor="end">.10</text>
<line x1="291.6" y1="429.84000000000003" x2="294.6" y2="429.84000000000003" stroke="#2e2e2e" stroke-width="1.1"/>
<text x="290" y="432.74" font-size="7.7" text-anchor="end">.05</text>
<line x1="291.6" y1="462.01" x2="294.6" y2="462.01" stroke="#2e2e2e" stroke-width="1.1"/>
<text x="290" y="464.90999999999997" font-size="7.7" text-anchor="end">.00</text>
<line x1="292.3" y1="462" x2="430.8" y2="462" stroke="#2e2e2e" stroke-width="1.4"/>
<line x1="317" y1="462" x2="317" y2="464.5" stroke="#2e2e2e" stroke-width="1.1"/>
<line x1="360.75" y1="462" x2="360.75" y2="464.5" stroke="#2e2e2e" stroke-width="1.1"/>
<line x1="405.5" y1="462" x2="405.5" y2="464.5" stroke="#2e2e2e" stroke-width="1.1"/>
<text x="271" y="410.7" font-size="7.8" style="stroke-width:0.05px" text-anchor="middle" textLength="54" lengthAdjust="spacingAndGlyphs" font-weight="bold" transform="rotate(-90 271 410.7)">Platelet aggregates</text>
<text x="348.1" y="381.8" font-size="7.7" textLength="29.5" lengthAdjust="spacingAndGlyphs"><tspan font-style="italic">P</tspan> = .003</text>
<circle cx="317" cy="378.3" r="1.0" fill="#666"/>
<circle cx="317" cy="393.8" r="1.0" fill="#666"/>
<line x1="317" y1="414.25" x2="317" y2="462" stroke="#2e2e2e" stroke-width="1.15"/>
<line x1="310.5" y1="414.25" x2="323.5" y2="414.25" stroke="#2e2e2e" stroke-width="1.2"/>
<line x1="310.5" y1="462" x2="323.5" y2="462" stroke="#2e2e2e" stroke-width="1.2"/>
<rect x="304.5" y="430.5" width="25.0" height="22.0" fill="#837ec7"/>
<line x1="304.5" y1="442" x2="329.5" y2="442" stroke="#1f1d5a" stroke-width="1.4"/>
<line x1="360.75" y1="414.25" x2="360.75" y2="462" stroke="#2e2e2e" stroke-width="1.15"/>
<line x1="354.25" y1="414.25" x2="367.25" y2="414.25" stroke="#2e2e2e" stroke-width="1.2"/>
<line x1="354.25" y1="462" x2="367.25" y2="462" stroke="#2e2e2e" stroke-width="1.2"/>
<rect x="348.25" y="428" width="25.5" height="24.5" fill="#837ec7"/>
<line x1="348.25" y1="439.25" x2="373.75" y2="439.25" stroke="#1f1d5a" stroke-width="1.4"/>
<line x1="405.5" y1="383.25" x2="405.5" y2="460.6" stroke="#2e2e2e" stroke-width="1.15"/>
<line x1="399.0" y1="383.25" x2="412.0" y2="383.25" stroke="#2e2e2e" stroke-width="1.2"/>
<line x1="399.0" y1="460.6" x2="412.0" y2="460.6" stroke="#2e2e2e" stroke-width="1.2"/>
<rect x="392.5" y="412" width="25.75" height="21.75" fill="#837ec7"/>
<line x1="392.5" y1="420.75" x2="418.25" y2="420.75" stroke="#1f1d5a" stroke-width="1.4"/>
<text x="307" y="475.1" font-size="8" textLength="19.8" lengthAdjust="spacingAndGlyphs">&lt;0.93</text>
<text x="343" y="475.1" font-size="8" textLength="35.5" lengthAdjust="spacingAndGlyphs">&lt;0.93-2.31</text>
<text x="396.3" y="475.1" font-size="8" textLength="18.5" lengthAdjust="spacingAndGlyphs">≥2.31</text>
<text x="354.1" y="487.6" font-size="9.0" style="stroke-width:0.1px" textLength="17.2" lengthAdjust="spacingAndGlyphs" font-weight="bold">EASIX</text>
</svg>
</body></html>
